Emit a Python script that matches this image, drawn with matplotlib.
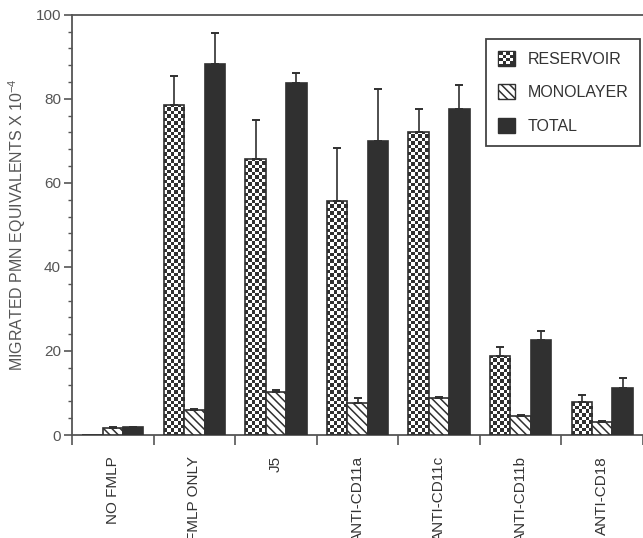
import numpy as np
import matplotlib as mpl
mpl.use("Agg")
import matplotlib.pyplot as plt
from matplotlib.patches import Rectangle, Patch
from matplotlib.colors import ListedColormap
from matplotlib.legend_handler import HandlerBase
from matplotlib.ticker import MultipleLocator

plt.rcParams['font.family'] = ['Liberation Sans', 'DejaVu Sans']
plt.rcParams['mathtext.default'] = 'regular'
plt.rcParams['hatch.linewidth'] = 1.1

groups = ["NO FMLP", "FMLP ONLY", "J5", "ANTI-CD11a", "ANTI-CD11c",
          "ANTI-CD11b", "ANTI-CD18"]
reservoir = [0.0, 78.6, 65.7, 55.6, 72.2, 18.9, 7.8]
reservoir_top = [0.0, 85.5, 74.9, 68.2, 77.7, 20.9, 9.6]
monolayer = [1.6, 6.0, 10.2, 7.6, 8.8, 4.5, 3.1]
monolayer_top = [2.0, 6.3, 10.8, 8.7, 9.1, 4.8, 3.3]
total = [1.8, 88.4, 83.7, 70.0, 77.7, 22.6, 11.3]
total_top = [2.0, 95.7, 86.2, 82.3, 83.3, 24.8, 13.6]

dark = "#303030"
ink = "#333333"
axc = "#555555"

fig = plt.figure(figsize=(6.43, 5.38), dpi=100)
ax = fig.add_axes([0.112, 0.1914, 0.888, 0.781])

x = np.arange(len(groups)) + 0.5
w = 0.25

rbars = ax.bar(x - w, reservoir, w, facecolor="none", edgecolor=dark,
               linewidth=1.2, zorder=3)
ax.bar(x, monolayer, w, facecolor="white", edgecolor=dark, linewidth=1.2,
       hatch="\\\\\\\\", zorder=3)
ax.bar(x + w, total, w, facecolor=dark, edgecolor=dark, linewidth=1.2,
       zorder=3)

# checkerboard fill for the reservoir bars
ppu = 0.781 * 538 / 100.0
checker_cmap = ListedColormap([dark, "white"])
for rect in rbars:
    h = rect.get_height()
    if h <= 0:
        continue
    rows = max(1, int(round(h * ppu / 3.45)))
    pat = np.indices((rows, 6)).sum(0) % 2
    im = ax.imshow(pat, cmap=checker_cmap, extent=(rect.get_x(),
                   rect.get_x() + rect.get_width(), 0, h), origin="upper",
                   aspect="auto", interpolation="nearest", zorder=2)
    im.set_clip_path(rect)

for xs, vals, tops in [(x - w, reservoir, reservoir_top),
                       (x, monolayer, monolayer_top),
                       (x + w, total, total_top)]:
    vals = np.array(vals)
    tops = np.array(tops)
    keep = vals > 0
    ax.errorbar(xs[keep], vals[keep],
                yerr=[np.zeros(keep.sum()), (tops - vals)[keep]],
                fmt="none", ecolor=dark, elinewidth=1.2, capsize=2.6,
                capthick=1.4, zorder=4)

ax.set_xlim(0, 6.94)
ax.set_ylim(0, 100)

ax.spines["right"].set_visible(False)
for s in ["left", "bottom", "top"]:
    ax.spines[s].set_color(axc)
    ax.spines[s].set_linewidth(1.3)

ax.set_xticks(np.arange(len(groups) + 1))
ax.set_xticklabels([])
ax.set_xticks(x, groups, minor=True)
ax.tick_params(axis="x", which="major", length=7, width=1.2, color=axc,
               direction="out")
ax.tick_params(axis="x", which="minor", length=0, pad=15, labelrotation=90,
               labelsize=11, labelcolor=ink)

ax.set_yticks(np.arange(0, 101, 20))
ax.yaxis.set_minor_locator(MultipleLocator(4))
ax.tick_params(axis="y", which="major", length=6, width=1.2, color=axc,
               labelsize=11, labelcolor="#555555", pad=2)
ax.tick_params(axis="y", which="minor", length=3, width=1.0, color=axc)

ax.set_ylabel("MIGRATED PMN EQUIVALENTS X 10$^{-4}$", fontsize=11.5,
              color="#555555", labelpad=5)


class CheckerHandler(HandlerBase):
    def create_artists(self, legend, orig_handle, xdescent, ydescent,
                       width, height, fontsize, trans):
        x0, y0 = -xdescent, -ydescent
        arts = [Rectangle((x0, y0), width, height, facecolor=dark,
                          edgecolor=dark, transform=trans)]
        n = 4
        cw = (width - 2) / n
        ch = (height - 2) / n
        for i in range(n):
            for j in range(n):
                if (i + j) % 2 == 0:
                    arts.append(Rectangle((x0 + 1 + i * cw, y0 + 1 + j * ch),
                                          cw, ch, facecolor="white",
                                          edgecolor="none", transform=trans))
        return arts


h_res = Rectangle((0, 0), 1, 1)
h_mono = Patch(facecolor="white", edgecolor=dark, hatch="\\\\\\\\")
h_tot = Patch(facecolor=dark, edgecolor=dark)
leg = ax.legend([h_res, h_mono, h_tot], ["RESERVOIR", "MONOLAYER", "TOTAL"],
                handler_map={h_res: CheckerHandler()},
                loc="upper left", bbox_to_anchor=(486 / 643, 1 - 39 / 538),
                bbox_transform=fig.transFigure, borderaxespad=0,
                fontsize=11.5, labelspacing=1.1, handlelength=1.05,
                handleheight=1.05, handletextpad=0.8, borderpad=0.75,
                fancybox=False, framealpha=1, edgecolor="#444444")
leg.get_frame().set_linewidth(1.3)
for t in leg.get_texts():
    t.set_color(ink)

fig.savefig("out.png", dpi=100)
